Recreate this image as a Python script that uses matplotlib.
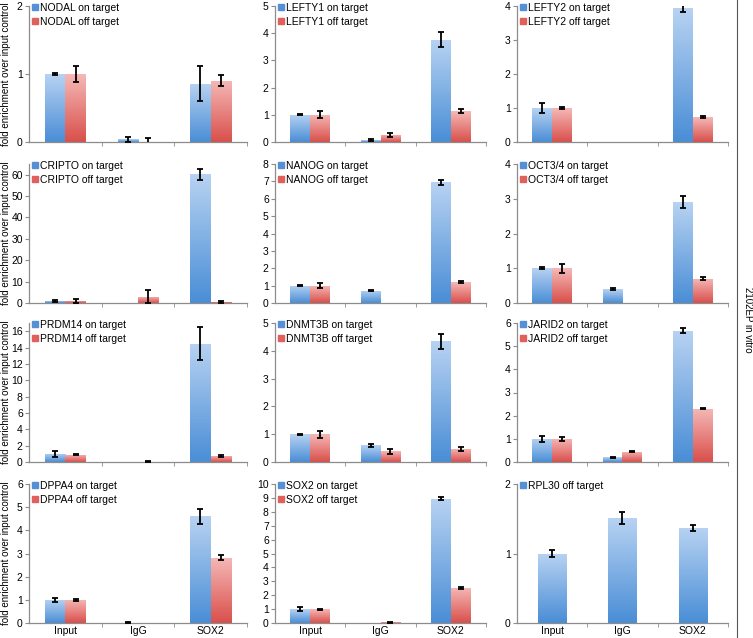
import matplotlib
matplotlib.use("Agg")
import matplotlib.pyplot as plt
import numpy as np
from matplotlib.colors import LinearSegmentedColormap
from matplotlib.lines import Line2D

plt.rcParams["font.family"] = ["Liberation Sans", "DejaVu Sans"]

# ---- data -----------------------------------------------------------------
categories = ["Input", "IgG", "SOX2"]
genes = ["NODAL", "LEFTY1", "LEFTY2",
         "CRIPTO", "NANOG", "OCT3/4",
         "PRDM14", "DNMT3B", "JARID2",
         "DPPA4", "SOX2"]

on_target = [
    [1.0, 0.04, 0.86], [1.0, 0.07, 3.76], [1.0, 0.0, 3.93],
    [1.0, 0.0, 60.1], [1.0, 0.70, 6.95], [1.0, 0.40, 2.90],
    [1.0, 0.0, 14.45], [1.0, 0.60, 4.35], [1.0, 0.20, 5.67],
    [1.0, 0.02, 4.60], [1.0, 0.02, 8.93],
]
on_err = [
    [0.01, 0.04, 0.26], [0.02, 0.05, 0.27], [0.15, np.nan, 0.12],
    [0.3, np.nan, 2.4], [0.04, 0.03, 0.15], [0.03, 0.02, 0.18],
    [0.4, np.nan, 2.0], [0.02, 0.05, 0.27], [0.12, 0.02, 0.1],
    [0.1, 0.01, 0.33], [0.12, np.nan, 0.1],
]
off_target = [
    [1.0, 0.0, 0.90], [1.0, 0.27, 1.13], [1.0, 0.0, 0.73],
    [1.0, 2.9, 0.5], [1.0, 0.0, 1.2], [1.0, 0.0, 0.70],
    [0.9, 0.05, 0.75], [1.0, 0.38, 0.47], [1.0, 0.45, 2.30],
    [1.0, 0.0, 2.82], [1.0, 0.05, 2.52],
]
off_err = [
    [0.12, 0.06, 0.08], [0.13, 0.07, 0.08], [0.03, np.nan, 0.03],
    [1.0, 3.1, 0.6], [0.13, np.nan, 0.05], [0.13, np.nan, 0.05],
    [0.1, 0.05, 0.1], [0.13, 0.08, 0.08], [0.08, 0.03, 0.02],
    [0.03, np.nan, 0.1], [0.03, 0.03, 0.04],
]
y_max = [2, 5, 4, 65, 8, 4, 17, 5, 6, 6, 10]
y_step = [1, 1, 1, 10, 1, 1, 2, 1, 1, 1, 1]

rpl30_values = [1.0, 1.51, 1.37]
rpl30_err = [0.05, 0.09, 0.04]

# ---- styling ---------------------------------------------------------------
W, H = 753, 638
col_left = [29, 275, 517]
col_right = [247, 486, 728]
row_top = [6, 164, 323, 484]
row_bottom = [142, 303, 462, 623]

blue_cmap = LinearSegmentedColormap.from_list("b", ["#4a8ed6", "#b7d2f2"])
red_cmap = LinearSegmentedColormap.from_list("r", ["#d9504c", "#f5b8b6"])
BLUE = "#5590d6"
RED = "#e0605c"
AXIS = "#8c8c8c"
grad = np.linspace(0, 1, 64).reshape(-1, 1)


def gradient_bars(ax, x, heights, width, cmap):
    bars = ax.bar(x, heights, width, facecolor="none", edgecolor="none", zorder=2)
    for rect in bars:
        h = rect.get_height()
        if h <= 0:
            continue
        x0 = rect.get_x()
        im = ax.imshow(grad, cmap=cmap, origin="lower", aspect="auto",
                       extent=[x0, x0 + rect.get_width(), 0, h], zorder=2)
        im.set_clip_path(rect)


def style_axes(ax, ymax, step, bottom_row):
    for s in ("top", "right"):
        ax.spines[s].set_visible(False)
    for s in ("left", "bottom"):
        ax.spines[s].set_color(AXIS)
        ax.spines[s].set_linewidth(0.9)
    ax.set_xlim(-0.5, 2.5)
    ax.set_ylim(0, ymax)
    ax.set_yticks(np.arange(0, ymax + 0.001, step))
    ax.yaxis.set_major_formatter(matplotlib.ticker.FormatStrFormatter("%d"))
    ax.set_xticks(range(3))
    ax.set_xticks([0.5, 1.5, 2.5], minor=True)
    ax.tick_params(axis="x", which="major", length=0, labelsize=7.5, pad=2)
    ax.tick_params(axis="x", which="minor", length=3, color=AXIS)
    ax.tick_params(axis="y", length=3, color=AXIS, labelsize=7.5, pad=1.5)
    if bottom_row:
        ax.set_xticklabels(categories)
    else:
        ax.set_xticklabels([])


fig = plt.figure(figsize=(W / 100, H / 100), dpi=100)
bw = 0.28

for i in range(12):
    r, c = divmod(i, 3)
    l, rr = col_left[c], col_right[c]
    t, b = row_top[r], row_bottom[r]
    ax = fig.add_axes([l / W, 1 - b / H, (rr - l) / W, (b - t) / H])
    x = np.arange(3)
    if i < 11:
        gradient_bars(ax, x - bw / 2, on_target[i], bw, blue_cmap)
        gradient_bars(ax, x + bw / 2, off_target[i], bw, red_cmap)
        ax.errorbar(x - bw / 2, on_target[i], yerr=on_err[i], fmt="none",
                    ecolor="black", elinewidth=1.3, capsize=2.2, capthick=1.3, zorder=3)
        ax.errorbar(x + bw / 2, off_target[i], yerr=off_err[i], fmt="none",
                    ecolor="black", elinewidth=1.3, capsize=2.2, capthick=1.3, zorder=3)
        style_axes(ax, y_max[i], y_step[i], r == 3)
        handles = [Line2D([], [], marker="s", ls="none", color=BLUE, markersize=4),
                   Line2D([], [], marker="s", ls="none", color=RED, markersize=4)]
        labels = [f"{genes[i]} on target", f"{genes[i]} off target"]
    else:
        gradient_bars(ax, x, rpl30_values, 0.4, blue_cmap)
        ax.errorbar(x, rpl30_values, yerr=rpl30_err, fmt="none",
                    ecolor="black", elinewidth=1.3, capsize=2.2, capthick=1.3, zorder=3)
        style_axes(ax, 2, 1, True)
        handles = [Line2D([], [], marker="s", ls="none", color=BLUE, markersize=4)]
        labels = ["RPL30 off target"]
    ax.legend(handles, labels, loc="upper left", bbox_to_anchor=(0.0, 1.045),
              frameon=False, fontsize=7.5, handlelength=0.5, handletextpad=0.25,
              labelspacing=0.35, borderaxespad=0.1, borderpad=0.2)
    if c == 0:
        fig.text(6 / W, 1 - (t + b) / 2 / H, "fold enrichment over input control",
                 rotation=90, ha="center", va="center", fontsize=7)

# right-hand bracket and label
fig.add_artist(Line2D([737 / W, 737 / W], [0, 1], color="#555555", lw=0.8))
fig.text(748 / W, 1 - 320 / H, "2102EP in vitro", rotation=270,
         ha="center", va="center", fontsize=7)

fig.savefig("out.png", dpi=100)
